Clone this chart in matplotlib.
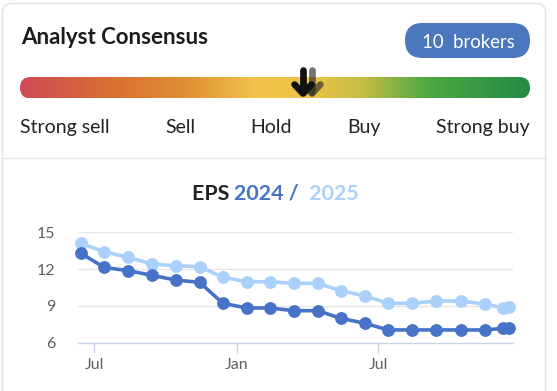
import numpy as np
import pandas as pd
import matplotlib
matplotlib.use('Agg')
import matplotlib.pyplot as plt
import matplotlib.dates as mdates
from matplotlib.colors import LinearSegmentedColormap
from matplotlib.patches import FancyBboxPatch

plt.rcParams['font.family'] = ['Lato', 'DejaVu Sans']

# ---- data ----
rating_labels = ['Strong sell', 'Sell', 'Hold', 'Buy', 'Strong buy']
consensus_now = 3.22   # 1 = strong sell ... 5 = strong buy
consensus_prev = 3.29
n_brokers = 10

dates = pd.to_datetime([
    '2023-06-14', '2023-07-14', '2023-08-14', '2023-09-14', '2023-10-14',
    '2023-11-14', '2023-12-14', '2024-01-14', '2024-02-13', '2024-03-14',
    '2024-04-14', '2024-05-14', '2024-06-14', '2024-07-14', '2024-08-14',
    '2024-09-14', '2024-10-15', '2024-11-15', '2024-12-09', '2024-12-17',
])
eps_2024 = [13.29, 12.14, 11.87, 11.49, 11.11, 10.92, 9.21, 8.83, 8.83, 8.61,
            8.61, 7.99, 7.58, 7.04, 7.04, 7.04, 7.04, 7.04, 7.17, 7.17]
eps_2025 = [14.10, 13.42, 12.96, 12.41, 12.28, 12.19, 11.33, 10.97, 10.97, 10.84,
            10.84, 10.24, 9.81, 9.21, 9.21, 9.40, 9.40, 9.15, 8.85, 8.93]

dark_blue = '#4673c8'
light_blue = '#a9d1fb'

W, H = 557, 391
fig = plt.figure(figsize=(W / 100, H / 100), dpi=100)


def px_axes(z):
    a = fig.add_axes([0, 0, 1, 1], zorder=z)
    a.set_xlim(0, W)
    a.set_ylim(H, 0)
    a.axis('off')
    a.patch.set_alpha(0)
    return a


# background in pixel coords
bg = px_axes(0)

card = FancyBboxPatch((2.5, 3.5), 543, 430, boxstyle='round,pad=0,rounding_size=9',
                      fc='white', ec='#e2e2e2', lw=1)
bg.add_patch(card)
bg.plot([2.5, 545.5], [158, 158], color='#e6e6e6', lw=1)

bg.text(21, 44.5, 'Analyst Consensus', fontsize=16, fontweight='bold',
        color='#1c1c1c', va='baseline', ha='left')

badge = FancyBboxPatch((405, 23), 125, 35, boxstyle='round,pad=0,rounding_size=17.5',
                       fc='#4a77bd', ec='none')
bg.add_patch(badge)
bg.text(468, 48.3, f'{n_brokers}  brokers', fontsize=13.4, color='white',
        va='baseline', ha='center')

# gradient bar
bar_l, bar_r = 20, 530
barax = fig.add_axes([bar_l / W, 1 - 100 / H, (bar_r - bar_l) / W, 40 / H], zorder=1)
barax.set_xlim(1, 5)
barax.set_ylim(100, 60)
barax.axis('off')
cmap = LinearSegmentedColormap.from_list('cons', [
    (0.0, '#cf4a55'), (0.2, '#d8742f'), (0.32, '#df8f33'), (0.46, '#f0c34b'),
    (0.57, '#eec449'), (0.67, '#c7be45'), (0.8, '#4ea843'), (1.0, '#238a47')])
im = barax.imshow(np.linspace(0, 1, 256)[None, :], extent=(1, 5, 98.5, 77),
                  aspect='auto', cmap=cmap)
clip = FancyBboxPatch((bar_l, 77), bar_r - bar_l, 21.5,
                      boxstyle='round,pad=0,rounding_size=10.75',
                      transform=bg.transData)
im.set_clip_path(clip)

# arrows on top of the bar
fg = px_axes(2)


def draw_arrow(val, color, alpha):
    xd = barax.transData.transform((val, 0))[0]
    x0 = fg.transData.inverted().transform((xd, 0))[0]
    kw = dict(color=color, alpha=alpha, lw=4.8, solid_capstyle='round',
              solid_joinstyle='round')
    fg.plot([x0, x0], [69.5, 92], **kw)
    fg.plot([x0 - 8.5, x0, x0 + 8.5], [84.5, 93.5, 84.5], **kw)


draw_arrow(consensus_prev, '#2a2a2a', 0.65)
draw_arrow(consensus_now, '#111111', 1.0)

# rating labels spaced like flex space-between
renderer = fig.canvas.get_renderer()
lbls = [bg.text(0, 133, t, fontsize=14, color='#222222', va='baseline', ha='left')
        for t in rating_labels]
widths = [np.ptp(bg.transData.inverted().transform(l.get_window_extent(renderer))[:, 0])
          for l in lbls]
gap = (bar_r - bar_l - sum(widths)) / (len(widths) - 1)
x = bar_l
for l, w in zip(lbls, widths):
    l.set_x(x)
    x += w + gap

# title with coloured pieces
pieces = [('EPS ', '#222222'), ('2024 / ', dark_blue), (' 2025', light_blue)]
tx = 191.5
for txt, col in pieces:
    t = bg.text(tx, 200, txt, fontsize=15.4, fontweight='bold', color=col,
                va='baseline', ha='left')
    tx += np.ptp(bg.transData.inverted().transform(t.get_window_extent(renderer))[:, 0])

# EPS chart
ax = fig.add_axes([77.7 / W, 1 - 342.7 / H, (513.3 - 77.7) / W, (342.7 - 232.3) / H],
                  zorder=1)
ax.set_facecolor('none')
ax.plot(dates, eps_2025, color=light_blue, lw=2.6, marker='o', ms=8.2,
        clip_on=False, zorder=3)
ax.plot(dates, eps_2024, color=dark_blue, lw=2.6, marker='o', ms=8.2,
        clip_on=False, zorder=4)
ax.set_ylim(6, 15)
ax.set_yticks([6, 9, 12, 15])
ax.set_xlim(pd.Timestamp('2023-06-10'), pd.Timestamp('2024-12-22'))
ax.xaxis.set_major_locator(mdates.MonthLocator(bymonth=[1, 7]))
ax.xaxis.set_major_formatter(mdates.DateFormatter('%b'))
ax.grid(axis='y', color='#e6e6e6', lw=1)
ax.set_axisbelow(True)
for s in ['top', 'right', 'left']:
    ax.spines[s].set_visible(False)
ax.spines['bottom'].set_color('#ccd6eb')
ax.spines['bottom'].set_linewidth(1)
ax.tick_params(axis='y', length=0, pad=16, labelsize=11.5, labelcolor='#5f5f5f')
ax.tick_params(axis='x', length=7, width=1, color='#ccd6eb', pad=4,
               labelsize=11.5, labelcolor='#5f5f5f')

fig.savefig('out.png', dpi=100)
